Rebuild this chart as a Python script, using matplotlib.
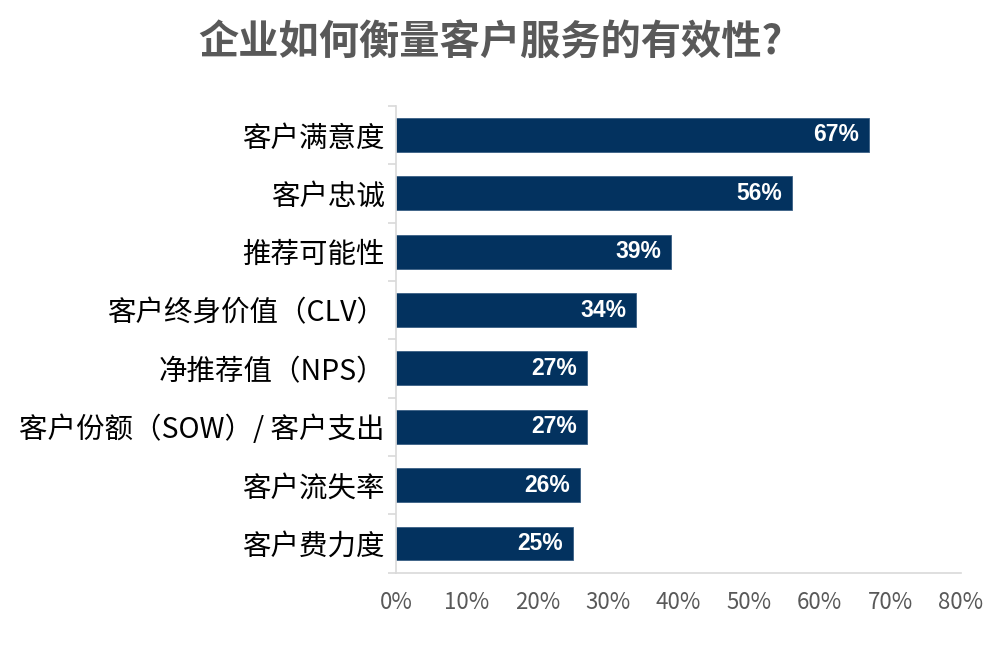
import matplotlib
matplotlib.use("Agg")
import matplotlib.pyplot as plt
import numpy as np

# ----------------------------
# Data
# ----------------------------
title = "企业如何衡量客户服务的有效性?"
categories = [
    "客户满意度",
    "客户忠诚",
    "推荐可能性",
    "客户终身价值（CLV）",
    "净推荐值（NPS）",
    "客户份额（SOW）/ 客户支出",
    "客户流失率",
    "客户费力度",
]
values = [67, 56, 39, 34, 27, 27, 26, 25]
xticks = [0, 10, 20, 30, 40, 50, 60, 70, 80]

plt.rcParams["font.family"] = ["Noto Sans CJK SC", "DejaVu Sans"]

BAR_COLOR = "#03325f"
GRID_GRAY = "#d9d9d9"
TEXT_GRAY = "#595959"

fig = plt.figure(figsize=(10, 6.6), dpi=100)
ax = fig.add_axes([0.396, 0.1323, 0.565, 0.7074])

y = np.arange(len(categories))
ax.barh(y, values, height=0.58, color=BAR_COLOR, edgecolor="#3a5f85", linewidth=0.6)

for yi, v in zip(y, values):
    ax.annotate(f"{v}%", xy=(v, yi), xytext=(-7, 0), textcoords="offset points",
                ha="right", va="center", color="white", fontsize=16.5,
                fontweight="bold", family=["Liberation Sans", "DejaVu Sans"])

ax.set_ylim(len(categories) - 0.5, -0.5)
ax.set_xlim(0, 80)

ax.set_yticks(y)
ax.set_yticklabels(categories, fontsize=20.5, color="black")
ax.tick_params(axis="y", which="major", length=0, pad=8)
ax.set_yticks(np.arange(-0.5, len(categories) + 0.5, 1), minor=True)
ax.tick_params(axis="y", which="minor", length=6, color=GRID_GRAY, width=1.2)

ax.set_xticks(xticks)
ax.set_xticklabels([f"{t}%" for t in xticks], fontsize=16, color=TEXT_GRAY)
ax.tick_params(axis="x", length=0, pad=13)

for side in ["top", "right"]:
    ax.spines[side].set_visible(False)
for side in ["left", "bottom"]:
    ax.spines[side].set_color(GRID_GRAY)
    ax.spines[side].set_linewidth(1.2)

fig.text(0.49, 0.935, title, ha="center", va="center", fontsize=29,
         fontweight="bold", color=TEXT_GRAY)

fig.savefig("out.png", dpi=100)
